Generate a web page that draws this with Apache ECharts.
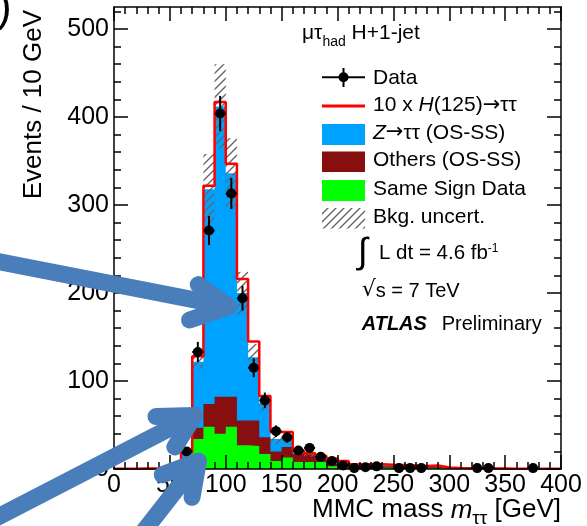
<!DOCTYPE html>
<html>
<head>
<meta charset="utf-8">
<script src="https://cdn.jsdelivr.net/npm/echarts@6/dist/echarts.min.js"></script>
<style>
  html, body { margin: 0; padding: 0; background: #fff; }
  #chart { width: 587px; height: 526px; }
</style>
</head>
<body>
<div id="chart"></div>
<script>
// MMC mass spectrum, mu-tau_had H+1-jet category, 10 GeV bins from 0 to 400 GeV

const binLow = [0, 10, 20, 30, 40, 50, 60, 70, 80, 90, 100, 110, 120, 130, 140, 150, 160, 170, 180, 190,
                200, 210, 220, 230, 240, 250, 260, 270, 280, 290, 300, 310, 320, 330, 340, 350, 360, 370, 380, 390];
const binWidth = 10;

// Same-sign data estimate (bottom of the stack)
const sameSign = [0, 0, 0, 0, 0.5, 1.5, 5.5, 34, 48, 40, 48, 27, 26, 17, 9, 13, 8, 8, 8, 3,
                  3, 2, 1.5, 1.5, 1.5, 1, 1, 1, 1.5, 0.5, 0.3, 0.3, 0.2, 0.2, 0.2, 0.1, 0.1, 0.1, 0.1, 0.1];
// Other backgrounds (OS-SS)
const others = [0, 0, 0.2, 0.3, 0.5, 1.5, 5.5, 13, 26, 42, 34, 28, 29, 19, 11, 12, 9, 8, 5, 3,
                2, 1.5, 1.5, 1.5, 1.5, 1.5, 1.5, 1, 1, 0.5, 0.3, 0.3, 0.2, 0.2, 0.2, 0.1, 0.1, 0.1, 0.1, 0.1];
// Z -> tautau (OS-SS)
const ztautau = [0.3, 0.3, 0.3, 0.2, 0.5, 1, 7, 75, 244, 330, 254, 145, 72, 38, 14, 10, 2, 1, 1, 4,
                 2, 1, 1.5, 1.5, 1, 1.5, 1, 1, 1, 0.5, 0.3, 0.2, 0.2, 0.2, 0.1, 0.1, 0.1, 0.1, 0.1, 0.1];
// 10 x H(125) -> tautau, stacked on the background
const signal10x = [0.1, 0.1, 0.1, 0.1, 0.2, 0.5, 1, 6, 4, 5, 11, 16, 18, 9, 8, 7, 2, 1, 1, 2,
                   2, 1, 0.8, 0.8, 0.8, 0.6, 0.6, 0.5, 0.5, 0.3, 0.2, 0.1, 0.1, 0.1, 0.1, 0.1, 0.1, 0.1, 0.1, 0.1];
// Background uncertainty (half width of the band)
const bkgErr = [0, 0, 0, 0, 0.5, 1, 3, 8, 40, 48, 40, 24, 15, 8, 6, 6, 3, 3, 2.5, 2,
                1.5, 1, 1, 1, 1, 1, 1, 1, 1, 0.5, 0.3, 0.3, 0.2, 0.2, 0.2, 0.1, 0.1, 0.1, 0.1, 0.1];
// Observed events and their errors
const dataCounts = [0, 0, 0, 0, 0, 0, 20, 133, 271, 404, 313, 194, 115, 78, 43, 36, 21, 24, 14, 9,
                    4, 1, 2, 3, 0, 1, 1, 1, 0, 0, 0, 0, 1, 1, 0, 0, 0, 1, 0, 0];
const dataErr = [0, 0, 0, 0, 0, 0, 4.5, 11.5, 16.5, 20, 17.7, 14, 10.7, 8.8, 6.6, 6, 4.6, 4.9, 3.7, 3,
                 2, 1, 1.4, 1.7, 0, 1, 1, 1, 0, 0, 0, 0, 1, 1, 0, 0, 0, 1, 0, 0];

const yTicksMajor = [0, 100, 200, 300, 400, 500];
const yTicksMinor = [20, 40, 60, 80, 120, 140, 160, 180, 220, 240, 260, 280, 320, 340, 360, 380, 420, 440, 460, 480, 520];

const FONT = 'Liberation Sans';
const COL_Z = '#00a2ff';
const COL_OTHERS = '#870f0f';
const COL_SS = '#00ff00';
const COL_SIG = '#ff0000';
const COL_ARROW = '#4a7ebb';

// cumulative stack tops
const topSS = sameSign.slice();
const topOthers = sameSign.map((v, i) => v + others[i]);
const topBkg = topOthers.map((v, i) => v + ztautau[i]);
const topSig = topBkg.map((v, i) => v + signal10x[i]);

function stepPoints(vals) {
  const pts = binLow.map((x, i) => [x, vals[i]]);
  pts.push([binLow[binLow.length - 1] + binWidth, vals[vals.length - 1]]);
  return pts;
}

// hatch pattern for the uncertainty band
function makeHatch() {
  const c = document.createElement('canvas');
  const s = 8;
  c.width = s; c.height = s;
  const g = c.getContext('2d');
  g.strokeStyle = '#666';
  g.lineWidth = 1.4;
  g.beginPath();
  g.moveTo(0, s); g.lineTo(s, 0);
  g.moveTo(-2, 2); g.lineTo(2, -2);
  g.moveTo(s - 2, s + 2); g.lineTo(s + 2, s - 2);
  g.stroke();
  return { image: c, repeat: 'repeat' };
}
const hatch = makeHatch();

// text runs with mixed styles laid out on one baseline
const mctx = document.createElement('canvas').getContext('2d');
function fontStr(p) {
  return (p.italic ? 'italic ' : '') + (p.bold ? 'bold ' : '') + p.size + 'px "' + (p.family || FONT) + '"';
}
function textRun(x, baseline, parts, align) {
  const widths = parts.map(p => { mctx.font = fontStr(p); return mctx.measureText(p.t).width; });
  const total = widths.reduce((a, b) => a + b, 0);
  let cx = align === 'right' ? x - total : x;
  const els = [];
  parts.forEach((p, i) => {
    els.push({
      type: 'text', x: cx, y: baseline + (p.dy || 0) - 0.3465 * p.size, z: 50,
      style: { text: p.t, font: fontStr(p), fill: '#000', textAlign: 'left', align: 'left',
               textVerticalAlign: 'middle', verticalAlign: 'middle' }
    });
    cx += widths[i];
  });
  return els;
}

const graphics = [];
// top-left label
graphics.push(...textRun(302, 40.7, [
  { t: 'μτ', size: 21 }, { t: 'had', size: 14, dy: 6 }, { t: ' H+1-jet', size: 21 }
]));

// legend
const LX = 322, LW = 43, TX = 373;
graphics.push(
  { type: 'line', z: 50, shape: { x1: LX, y1: 77.3, x2: LX + LW, y2: 77.3 }, style: { stroke: '#000', lineWidth: 2 } },
  { type: 'line', z: 50, shape: { x1: 343.5, y1: 68, x2: 343.5, y2: 87 }, style: { stroke: '#000', lineWidth: 2 } },
  { type: 'circle', z: 51, shape: { cx: 343.5, cy: 77.3, r: 5 }, style: { fill: '#000' } },
  { type: 'line', z: 50, shape: { x1: LX, y1: 106, x2: LX + LW, y2: 106 }, style: { stroke: COL_SIG, lineWidth: 3 } },
  { type: 'rect', z: 50, shape: { x: LX, y: 124, width: LW, height: 21 }, style: { fill: COL_Z } },
  { type: 'rect', z: 50, shape: { x: LX, y: 151.5, width: LW, height: 20.5 }, style: { fill: COL_OTHERS } },
  { type: 'rect', z: 50, shape: { x: LX, y: 180, width: LW, height: 21 }, style: { fill: COL_SS } },
  { type: 'rect', z: 50, shape: { x: LX, y: 208, width: LW, height: 20.5 }, style: { fill: hatch } }
);
const ARROW_FONT = 'DejaVu Sans';
graphics.push(...textRun(TX, 85, [{ t: 'Data', size: 21 }]));
graphics.push(...textRun(TX, 112.5, [
  { t: '10 x ', size: 21 }, { t: 'H', size: 21, italic: true }, { t: '(125)', size: 21 },
  { t: '→', size: 21, family: ARROW_FONT }, { t: 'ττ', size: 21 }
]));
graphics.push(...textRun(TX, 140, [
  { t: 'Z', size: 21, italic: true }, { t: '→', size: 21, family: ARROW_FONT }, { t: 'ττ (OS-SS)', size: 21 }
]));
graphics.push(...textRun(TX, 167.5, [{ t: 'Others (OS-SS)', size: 21 }]));
graphics.push(...textRun(TX, 196, [{ t: 'Same Sign Data', size: 21 }]));
graphics.push(...textRun(TX, 224, [{ t: 'Bkg. uncert.', size: 21 }]));

// luminosity, energy and experiment labels
graphics.push(...textRun(358, 266, [{ t: '∫', size: 36 }]));
graphics.push(...textRun(379, 260.7, [{ t: 'L dt = 4.6 fb', size: 20.5 }, { t: '-1', size: 12, dy: -7.5 }]));
graphics.push(...textRun(361.7, 298.3, [{ t: '√', size: 22, family: ARROW_FONT }, { t: 's = 7 TeV', size: 20 }]));
graphics.push(...textRun(361.7, 331, [{ t: 'ATLAS', size: 20, bold: true, italic: true }]));
graphics.push(...textRun(441.7, 331, [{ t: 'Preliminary', size: 20 }]));

// axis titles
graphics.push(...textRun(561, 519.3, [
  { t: 'MMC mass ', size: 26 }, { t: 'm', size: 26, italic: true }, { t: 'ττ', size: 19, dy: 6 }, { t: ' [GeV]', size: 26 }
], 'right'));
graphics.push({
  type: 'text', x: 34, y: 10, rotation: Math.PI / 2, z: 50,
  style: { text: 'Events / 10 GeV', font: '26px "' + FONT + '"', fill: '#000',
           textAlign: 'right', align: 'right', textVerticalAlign: 'middle', verticalAlign: 'middle' }
});

// partial parenthesis at the top-left corner
graphics.push(...textRun(-3, 24, [{ t: ')', size: 44 }]));

// annotation arrows
const arrowStyle = { stroke: COL_ARROW, lineWidth: 17, lineCap: 'round', lineJoin: 'round', fill: null };
const arrows = [
  { shaft: [[-10, 260], [228.9, 306.7]], head: [[198.3, 284.6], [228.9, 306.7], [189.5, 320]] },
  { shaft: [[-10, 521], [194.6, 415.4]], head: [[156, 416.5], [194.6, 415.4], [174.8, 446.9]] },
  { shaft: [[140, 536], [198.4, 461.3]], head: [[162.2, 474.8], [198.4, 461.3], [192, 497.3]] }
];
arrows.forEach(a => {
  graphics.push({ type: 'polyline', z: 100, shape: { points: a.shaft }, style: arrowStyle });
  graphics.push({ type: 'polyline', z: 100, shape: { points: a.head }, style: arrowStyle });
});

const bandData = binLow.map((x, i) => [x, x + binWidth, topBkg[i] - bkgErr[i], topBkg[i] + bkgErr[i]])
  .filter(d => d[3] > d[2]);
const dataPoints = binLow.map((x, i) => [x + binWidth / 2, dataCounts[i], dataErr[i]])
  .filter(d => d[1] > 0);

const axisLineStyle = { color: '#000', width: 1.5 };
const labelStyle = { fontSize: 25, fontFamily: FONT, color: '#000' };

function xAx(pos, major) {
  return {
    type: 'value', min: 0, max: 400, interval: major ? 50 : 10, position: pos, z: 5,
    axisLine: { show: major, onZero: false, lineStyle: axisLineStyle },
    axisTick: { show: true, inside: true, length: major ? 14 : 7, lineStyle: axisLineStyle },
    axisLabel: Object.assign({ show: major && pos === 'bottom', margin: 4 }, labelStyle),
    splitLine: { show: false }
  };
}
function yAx(pos, major) {
  const ticks = major ? yTicksMajor : yTicksMinor;
  return {
    type: 'value', min: 0, max: 525, interval: major ? 100 : 20, position: pos, z: 5,
    axisLine: { show: major, onZero: false, lineStyle: axisLineStyle },
    axisTick: { show: true, inside: true, length: major ? 14 : 7, lineStyle: axisLineStyle, customValues: ticks },
    axisLabel: Object.assign({ show: major && pos === 'left', margin: 5, customValues: ticks }, labelStyle),
    splitLine: { show: false }
  };
}

const chart = echarts.init(document.getElementById('chart'), null, { renderer: 'canvas' });
chart.setOption({
  animation: false,
  backgroundColor: '#fff',
  grid: { left: 114, right: 26, top: 7, bottom: 57, containLabel: false, outerBoundsMode: 'none' },
  xAxis: [xAx('bottom', true), xAx('bottom', false), xAx('top', true), xAx('top', false)],
  yAxis: [yAx('left', true), yAx('left', false), yAx('right', true), yAx('right', false)],
  series: [
    {
      name: 'Z→ττ (OS-SS)', type: 'line', step: 'end', symbol: 'none', z: 2,
      data: stepPoints(topBkg), lineStyle: { width: 0, opacity: 0 },
      areaStyle: { color: COL_Z, opacity: 1 }, silent: true
    },
    {
      name: 'Others (OS-SS)', type: 'line', step: 'end', symbol: 'none', z: 2,
      data: stepPoints(topOthers), lineStyle: { width: 0, opacity: 0 },
      areaStyle: { color: COL_OTHERS, opacity: 1 }, silent: true
    },
    {
      name: 'Same Sign Data', type: 'line', step: 'end', symbol: 'none', z: 2,
      data: stepPoints(topSS), lineStyle: { width: 0, opacity: 0 },
      areaStyle: { color: COL_SS, opacity: 1 }, silent: true
    },
    {
      name: 'Bkg. uncert.', type: 'custom', z: 3, silent: true,
      data: bandData,
      renderItem: function (params, api) {
        const p0 = api.coord([api.value(0), api.value(3)]);
        const p1 = api.coord([api.value(1), api.value(2)]);
        return { type: 'rect', shape: { x: p0[0], y: p0[1], width: p1[0] - p0[0], height: p1[1] - p0[1] },
                 style: { fill: hatch } };
      }
    },
    {
      name: '10 x H(125)→ττ', type: 'line', step: 'end', symbol: 'none', z: 4, silent: true,
      data: stepPoints(topSig), lineStyle: { color: COL_SIG, width: 2.5 }
    },
    {
      name: 'Data', type: 'custom', z: 6, silent: true,
      data: dataPoints,
      renderItem: function (params, api) {
        const x = api.value(0), n = api.value(1), e = api.value(2);
        const c = api.coord([x, n]);
        const t = api.coord([x, n + e]);
        const b = api.coord([x, Math.max(0, n - e)]);
        const l = api.coord([x - binWidth / 2, n]);
        const r = api.coord([x + binWidth / 2, n]);
        return {
          type: 'group', children: [
            { type: 'line', shape: { x1: c[0], y1: t[1], x2: c[0], y2: b[1] }, style: { stroke: '#000', lineWidth: 2 } },
            { type: 'line', shape: { x1: l[0], y1: c[1], x2: r[0], y2: c[1] }, style: { stroke: '#000', lineWidth: 2 } },
            { type: 'circle', shape: { cx: c[0], cy: c[1], r: 5 }, style: { fill: '#000' } }
          ]
        };
      }
    }
  ],
  graphic: { elements: graphics }
});
</script>
</body>
</html>
